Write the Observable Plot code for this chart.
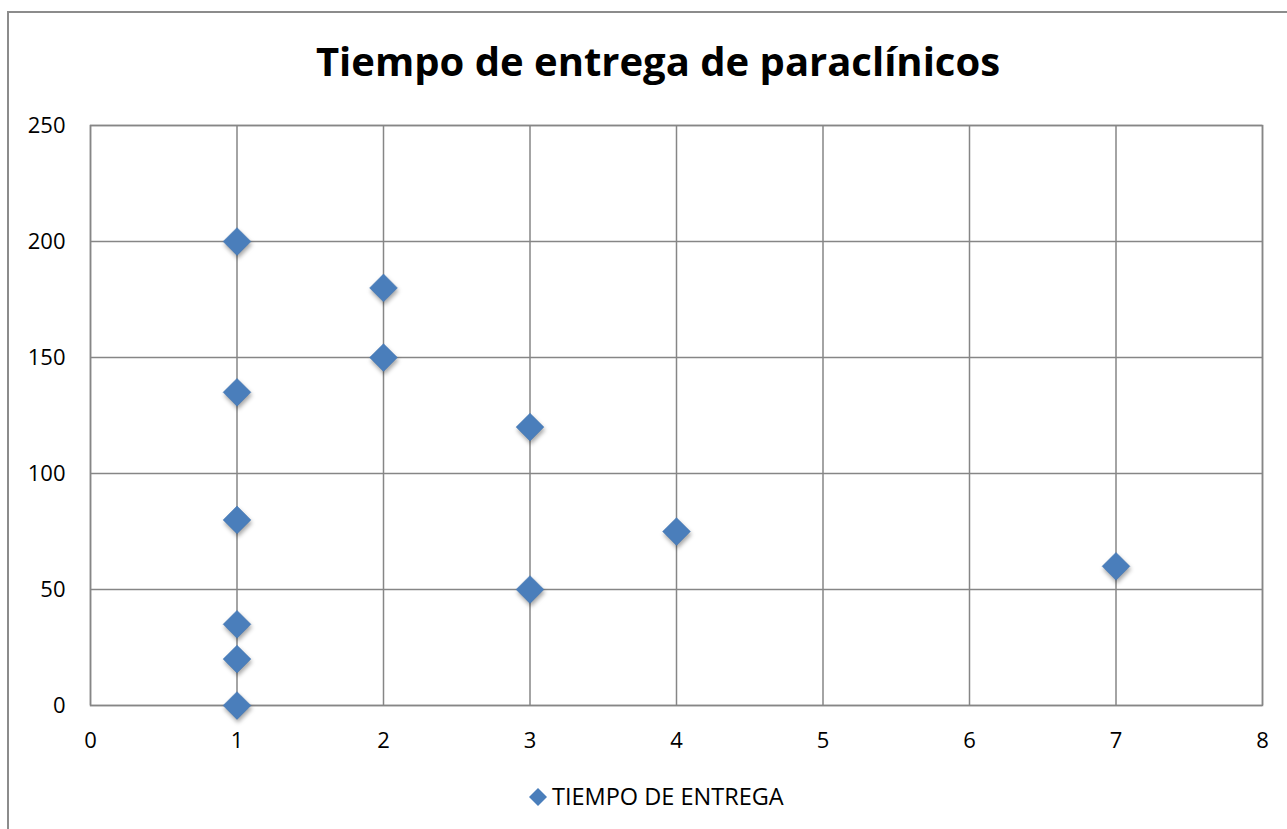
<!DOCTYPE html>
<html>
<head>
<meta charset="utf-8">
<script src="https://cdn.jsdelivr.net/npm/d3@7"></script>
<script src="https://cdn.jsdelivr.net/npm/@observablehq/plot@0.6"></script>
<style>
  html, body { margin: 0; padding: 0; background: #fff; overflow: hidden; }
  #wrap { position: relative; width: 1287px; height: 829px; overflow: hidden; font-family: "Open Sans", sans-serif; }
  #frame { position: absolute; left: 7px; top: 11px; width: 1400px; height: 900px; border: 2px solid #8c8c8c; box-sizing: border-box; }
  #title { position: absolute; left: 0; width: 1316px; top: 41px; text-align: center; font-weight: bold; font-size: 40px; color: #000; line-height: 1; }
  #legend { position: absolute; top: 785px; left: 527px; font-size: 23.5px; color: #000; display: flex; align-items: center; gap: 3px; line-height: 1; }
  #chart { position: absolute; left: 0; top: 0; }
  #chart svg { overflow: visible; }
  #chart svg g[aria-label$="tick label"] text { font-size: 22px; }
</style>
</head>
<body>
<div id="wrap">
  <div id="frame"></div>
  <div id="chart"></div>
  <div id="title">Tiempo de entrega de paraclínicos</div>
  <div id="legend"><svg width="22" height="22" viewBox="-11 -11 22 22"><path d="M0,-9L9,0L0,9L-9,0Z" fill="#4a7ebb"/></svg><span>TIEMPO DE ENTREGA</span></div>
</div>
<script>
const title = "Tiempo de entrega de paraclínicos";
const seriesName = "TIEMPO DE ENTREGA";
const xValues = [1, 1, 1, 1, 1, 1, 2, 2, 3, 3, 4, 7];
const yValues = [200, 135, 80, 35, 20, 0, 180, 150, 120, 50, 75, 60];
const xTicks = [0, 1, 2, 3, 4, 5, 6, 7, 8];
const yTicks = [0, 50, 100, 150, 200, 250];

const data = xValues.map((x, i) => ({x, y: yValues[i]}));

const chart = Plot.plot({
  width: 1287,
  height: 829,
  marginLeft: 90,
  marginRight: 25,
  marginTop: 125,
  marginBottom: 124,
  style: {fontFamily: "'Open Sans', sans-serif", fontSize: "22px", color: "#000", background: "transparent"},
  x: {domain: [0, 8], ticks: xTicks, label: null, tickSize: 0, tickPadding: 27},
  y: {domain: [0, 250], ticks: yTicks, label: null, tickSize: 0, tickPadding: 25},
  marks: [
    Plot.gridX(xTicks, {stroke: "#868686", strokeOpacity: 1, strokeWidth: 1.5}),
    Plot.gridY(yTicks, {stroke: "#868686", strokeOpacity: 1, strokeWidth: 1.5}),
    Plot.frame({stroke: "#868686", strokeWidth: 1.5}),
    Plot.dot(data, {x: "x", y: "y", symbol: "diamond2", r: 12.5, fill: "#4a7ebb", stroke: "#3f72b0", strokeWidth: 0.5})
  ]
});
chart.querySelectorAll("g[aria-label='dot'] path").forEach(p => p.style.filter = "drop-shadow(1px 3px 2px rgba(0,0,0,0.35))");
document.getElementById("chart").appendChild(chart);
</script>
</body>
</html>
